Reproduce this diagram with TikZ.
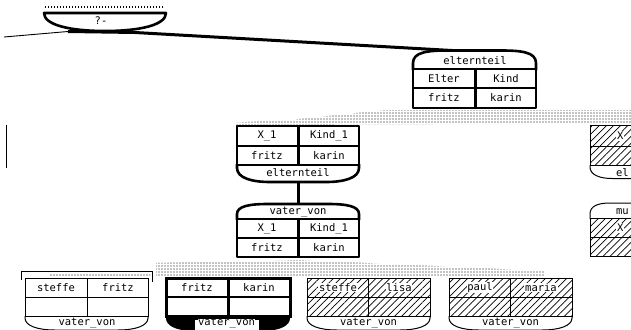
\documentclass[tikz,border=0pt]{standalone}
\usepackage{fontspec}
\newfontfamily\pixfont{DejaVu Sans Mono}
\usetikzlibrary{patterns,patterns.meta}
\begin{document}
\begin{tikzpicture}[x=1pt,y=-1pt,
  lbl/.style={font=\pixfont\fontsize{10.5}{11}\selectfont, inner sep=0.8pt},
  ko/.style={lbl, fill=white},
  blbl/.style={lbl, fill=white, inner sep=0pt, outer sep=0pt},
  heavy/.style={line width=2.6pt, line join=round},
  light/.style={line width=1pt},
  hatch/.style={pattern={Lines[angle=45,distance=5pt,line width=0.7pt]}},
  stip/.style={pattern={Dots[distance=3pt,radius=0.6pt]}, pattern color=black},
  conn/.style={line width=3pt},
  ]
\useasboundingbox (0,0) rectangle (631,329);
\clip (0,0) rectangle (631,329);

% stippled bands
\fill[stip] (236,122.5) -- (290,120) -- (385,110) -- (631,110) -- (631,124) -- (236,125) -- cycle;
\fill[stip] (50,273.5) rectangle (150,276.5);
\fill[stip] (156,263) -- (300,260) -- (545,271) -- (545,277) -- (156,277) -- cycle;

% query node
\draw[dash pattern=on 1pt off 2pt, line width=1.2pt] (45,7) -- (164,7);
\draw[heavy] (44,13) -- (166,13) .. controls (166,25) and (140,31) .. (105,31) .. controls (70,31) and (44,25) .. (44,13) -- cycle;
\node[lbl] (q) at (101,21) {?-};

% connectors
\coordinate (qL) at (68,31.5);
\coordinate (qR) at (135,32.5);
\coordinate (elIn) at (452,50.5);
\coordinate (lfree) at (4,37);
\draw[line width=0.9pt] (lfree) -- (qL);
\draw[conn] (qL) -- (qR) -- (elIn);

% top elternteil
\draw[heavy] (413,70) -- (413,63) .. controls (413,52) and (428,50.5) .. (448,50.5) -- (501,50.5) .. controls (521,50.5) and (536,52) .. (536,63) -- (536,70);
\draw[heavy] (413,69) rectangle (536,108);
\draw[line width=2pt] (413,88) -- (536,88);
\draw[line width=3pt] (475,69) -- (475,108);
\node[lbl] (t0) at (475,60.5) {elternteil};
\node[lbl] (t1) at (444,79) {Elter};
\node[lbl] (t2) at (506,79) {Kind};
\node[lbl] (t3) at (444,98) {fritz};
\node[lbl] (t4) at (506,98) {karin};

% middle elternteil
\draw[heavy] (237,126) rectangle (359,165);
\draw[line width=2pt] (237,145.5) -- (359,145.5);
\draw[line width=3pt] (298,126) -- (298,165);
\draw[heavy] (237,164) -- (237,168) .. controls (237,178) and (252,182) .. (270,182) -- (326,182) .. controls (344,182) and (359,178) .. (359,168) -- (359,164);
\node[lbl] (m0) at (298,173) {elternteil};
\node[lbl] (m1) at (267,136) {X\_1};
\node[lbl] (m2) at (329,136) {Kind\_1};
\node[lbl] (m3) at (267,155.5) {fritz};
\node[lbl] (m4) at (329,155.5) {karin};

\coordinate (m1b) at (298,182);
\coordinate (m2t) at (298,204);
\draw[conn] (m1b) -- (m2t);

% vater_von
\draw[heavy] (237,220) -- (237,214) .. controls (237,206) and (250,204) .. (268,204) -- (328,204) .. controls (346,204) and (359,206) .. (359,214) -- (359,220);
\draw[heavy] (237,219) rectangle (359,257);
\draw[line width=2pt] (237,238) -- (359,238);
\draw[line width=3pt] (298,219) -- (298,257);
\node[lbl] (v0) at (298,212) {vater\_von};
\node[lbl] (v1) at (267,228.5) {X\_1};
\node[lbl] (v2) at (329,228.5) {Kind\_1};
\node[lbl] (v3) at (267,247.5) {fritz};
\node[lbl] (v4) at (329,247.5) {karin};

% bracket
\draw[line width=0.8pt] (21,280) -- (21,271) -- (152,271) -- (152,282);

% node A
\draw[light] (25,278) rectangle (148,316);
\draw[light] (25,297) -- (148,297);
\draw[light] (87,278) -- (87,316);
\draw[light] (25,316) -- (25,318) .. controls (25,326) and (38,330) .. (55,330) -- (118,330) .. controls (135,330) and (148,326) .. (148,318) -- (148,316);
\node[blbl] (a0) at (87,323.5) {vater\_von};
\node[lbl] (a1) at (56,287.5) {steffe};
\node[lbl] (a2) at (118,287.5) {fritz};

% node B
\fill (166,315) -- (166,318) .. controls (166,326) and (176,330) .. (190,331) -- (266,331) .. controls (280,330) and (290,326) .. (290,318) -- (290,315) -- cycle;
\draw[line width=3pt] (166,278) rectangle (290,316);
\draw[line width=2pt] (166,297) -- (290,297);
\draw[line width=3pt] (228,278) -- (228,316);
\fill[white] (195,319.5) rectangle (259,331);
\node[blbl] (b0) at (226.5,323.5) {vater\_von};
\node[lbl] (b1) at (197,287.5) {fritz};
\node[lbl] (b2) at (259,287.5) {karin};

% node C
\fill[hatch] (307,278) rectangle (430,316);
\draw[light] (307,278) rectangle (430,316);
\draw[light] (307,297) -- (430,297);
\draw[light] (368,278) -- (368,316);
\draw[light] (307,316) -- (307,318) .. controls (307,326) and (320,330) .. (337,330) -- (400,330) .. controls (417,330) and (430,326) .. (430,318) -- (430,316);
\node[blbl] (c0) at (368.5,323.5) {vater\_von};
\node[ko] (c1) at (338,287.5) {steffe};
\node[ko] (c2) at (399,287.5) {lisa};

% node D
\fill[hatch] (449,278) rectangle (572,316);
\draw[light] (449,278) rectangle (572,316);
\draw[light] (449,297) -- (572,297);
\draw[light] (510,278) -- (510,316);
\draw[light] (449,316) -- (449,318) .. controls (449,326) and (462,330) .. (479,330) -- (542,330) .. controls (559,330) and (572,326) .. (572,318) -- (572,316);
\node[blbl] (d0) at (510.5,323.5) {vater\_von};
\node[ko] (d1) at (480,287.5) {paul};
\node[ko] (d2) at (541,287.5) {maria};

% partial node E
\fill[hatch] (590,125) rectangle (640,165);
\draw[light] (640,125) -- (590,125) -- (590,165) -- (640,165);
\draw[light] (590,146) -- (640,146);
\draw[light] (590,165) -- (590,167) .. controls (590,175) and (600,178.5) .. (612,178.5) -- (640,178.5);
\node[ko, anchor=west] (e0) at (615,173) {el};
\node[ko, anchor=west] (e1) at (616,136) {X};

% partial node F
\draw[light] (590,219) -- (590,214) .. controls (590,206) and (598,203) .. (610,203) -- (640,203);
\fill[hatch] (590,218) rectangle (640,256);
\draw[light] (640,218) -- (590,218) -- (590,256) -- (640,256);
\draw[light] (590,237) -- (640,237);
\node[lbl, anchor=west] (f0) at (615,212) {mu};
\node[ko, anchor=west] (f1) at (616,228) {X};

% cursor
\coordinate (cur1) at (6,125);
\coordinate (cur2) at (6,168);
\draw[line width=1pt] (cur1) -- (cur2);
\end{tikzpicture}
\end{document}
